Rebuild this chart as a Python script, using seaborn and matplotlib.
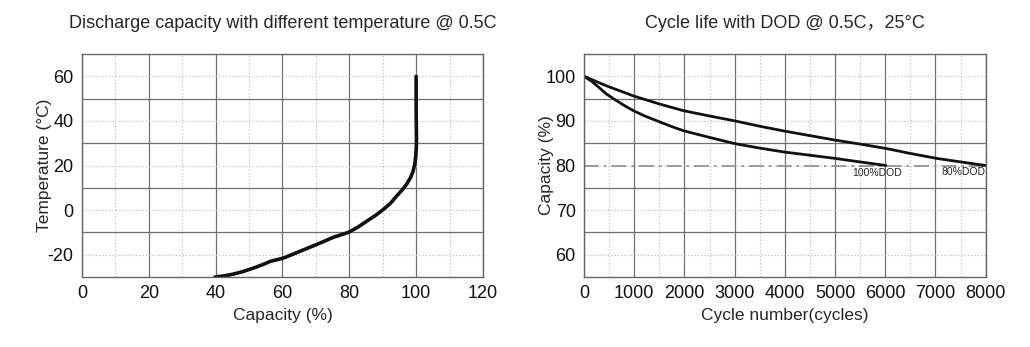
import numpy as np
import pandas as pd
import matplotlib
matplotlib.use("Agg")
import matplotlib.pyplot as plt
import seaborn as sns

# ---- data ----
temp_capacity = [39.8, 42.5, 45.3, 48.3, 51.3, 54.0, 56.3, 60.3, 65.2, 71.2, 75.2, 79.7, 82.5, 85.2, 88.0, 90.1, 92.3, 94.1, 95.8, 97.1, 98.3, 99.1, 99.6, 99.9, 100.05, 100.1, 100.0, 100.0]
temp_values = [-30.0, -29.5, -28.7, -27.5, -26.0, -24.5, -23.0, -21.5, -18.5, -14.8, -12.2, -10.0, -7.7, -5.0, -2.2, 0.2, 3.0, 6.2, 9.0, 11.5, 14.5, 17.5, 20.8, 24.3, 28.0, 31.8, 45.0, 60.0]

dod80_cycles = [0, 250, 484, 750, 982, 1500, 1977, 2500, 3005, 3500, 4000, 4500, 4995, 5500, 6023, 6500, 7018, 7500, 8000]
dod80_capacity = [100.0, 98.8, 97.7, 96.6, 95.6, 93.8, 92.3, 91.1, 90.0, 88.8, 87.7, 86.7, 85.7, 84.8, 83.8, 82.7, 81.6, 80.8, 80.0]

dod100_cycles = [0, 150, 318, 450, 584, 780, 982, 1230, 1480, 1730, 1977, 2500, 3005, 3500, 4000, 4500, 4995, 5500, 6010]
dod100_capacity = [100.0, 98.9, 97.3, 96.0, 95.0, 93.6, 92.3, 91.0, 89.9, 88.8, 87.8, 86.3, 84.9, 83.9, 83.0, 82.3, 81.6, 80.8, 80.0]

eol_cycles = [0, 8000]
eol_capacity = [80, 80]

left_xticks = [0, 20, 40, 60, 80, 100, 120]
left_yticks = [-20, 0, 20, 40, 60]
right_xticks = [0, 1000, 2000, 3000, 4000, 5000, 6000, 7000, 8000]
right_yticks = [60, 70, 80, 90, 100]

title_left = "Discharge capacity with different temperature @ 0.5C"
title_right = "Cycle life with DOD @ 0.5C\uff0c25\u00b0C"

# ---- style ----
sns.set_style("white")
plt.rcParams['font.family'] = ['Liberation Sans', 'Noto Sans CJK SC', 'DejaVu Sans']
plt.rcParams['axes.unicode_minus'] = False

fig = plt.figure(figsize=(10.3, 3.47), dpi=100)
axL = fig.add_axes([0.0796, 0.2017, 0.3893, 0.6427])
axR = fig.add_axes([0.567, 0.2017, 0.390, 0.6427])

LINE = "#111111"
SOLID_GRID = dict(color="#707070", linewidth=0.9, linestyle="-")
DOT_GRID = dict(color="#b8b8b8", linewidth=0.8, linestyle=(0, (1, 2)))

df_t = pd.DataFrame({"cap": temp_capacity, "temp": temp_values})
sns.lineplot(data=df_t, x="cap", y="temp", ax=axL, color=LINE, linewidth=2.6, sort=False, estimator=None)

df80 = pd.DataFrame({"c": dod80_cycles, "v": dod80_capacity})
df100 = pd.DataFrame({"c": dod100_cycles, "v": dod100_capacity})
dfe = pd.DataFrame({"c": eol_cycles, "v": eol_capacity})
sns.lineplot(data=dfe, x="c", y="v", ax=axR, color="#8c8c8c", linewidth=1.2,
             linestyle=(0, (9, 3, 1.5, 3)), estimator=None)
sns.lineplot(data=df80, x="c", y="v", ax=axR, color=LINE, linewidth=2.0, estimator=None)
sns.lineplot(data=df100, x="c", y="v", ax=axR, color=LINE, linewidth=2.0, estimator=None)

axR.text(5837, 78.3, "100%DOD", fontsize=7.5, ha="center", va="center", color="#222222")
axR.text(7560, 78.6, "80%DOD", fontsize=7.5, ha="center", va="center", color="#222222")

# left axes
axL.set_xlim(0, 120)
axL.set_ylim(-30, 70)
axL.set_xticks(left_xticks)
axL.set_xticks([10, 30, 50, 70, 90, 110], minor=True)
axL.set_yticks(left_yticks)
axL.set_yticks([-10, 10, 30, 50], minor=True)
axL.grid(True, which="major", axis="x", **SOLID_GRID)
axL.grid(True, which="minor", axis="x", **DOT_GRID)
axL.grid(True, which="major", axis="y", **DOT_GRID)
axL.grid(True, which="minor", axis="y", **SOLID_GRID)
axL.set_xlabel("Capacity (%)", fontsize=12.5, labelpad=4)
axL.set_ylabel("Temperature (\u00b0C)", fontsize=12.5, labelpad=-3)
axL.set_title(title_left, fontsize=13, pad=19)

# right axes
axR.set_xlim(0, 8000)
axR.set_ylim(55, 105)
axR.set_xticks(right_xticks)
axR.set_xticks([500, 1500, 2500, 3500, 4500, 5500, 6500, 7500], minor=True)
axR.set_yticks(right_yticks)
axR.set_yticks([65, 75, 85, 95], minor=True)
axR.grid(True, which="major", axis="x", **SOLID_GRID)
axR.grid(True, which="minor", axis="x", **DOT_GRID)
axR.grid(True, which="major", axis="y", **DOT_GRID)
axR.grid(True, which="minor", axis="y", **SOLID_GRID)
axR.set_xlabel("Cycle number(cycles)", fontsize=12.5, labelpad=4)
axR.set_ylabel("Capacity (%)", fontsize=12.5, labelpad=-6)
axR.set_title(title_right, fontsize=13, pad=19)

for ax in (axL, axR):
    ax.set_axisbelow(True)
    ax.tick_params(which="both", length=0, labelsize=13, colors="#111111", pad=6)
    for s in ax.spines.values():
        s.set_color("#666666")
        s.set_linewidth(1.0)
        s.set_visible(True)

fig.savefig("out.png", dpi=100, facecolor="white")
